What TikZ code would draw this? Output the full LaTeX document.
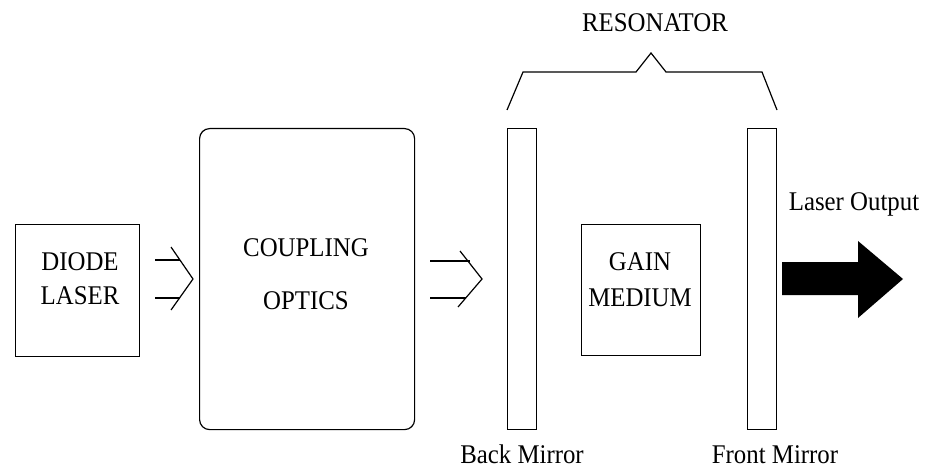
\documentclass[tikz,border=0pt]{standalone}
\usepackage{fontspec}
\setmainfont{Liberation Serif}[FakeStretch=0.92]
\usetikzlibrary{calc}
\begin{document}
\begin{tikzpicture}[x=1pt,y=-1pt, line width=1.2pt,
  box/.style={draw, inner sep=0pt, anchor=north west},
  lbl/.style={font=\fontsize{27}{30}\selectfont, inner sep=0pt, anchor=base},
  beam/.style={line width=1.2pt}]
\useasboundingbox (0,0) rectangle (928,470);
% boxes
\node[box, minimum width=124pt, minimum height=132pt] (diode) at (15,224) {};
\node[box, rounded corners=10pt, minimum width=215pt, minimum height=301pt] (coupling) at (199,128) {};
\node[box, minimum width=29pt, minimum height=301pt] (back) at (507,128) {};
\node[box, minimum width=119pt, minimum height=131pt] (gain) at (581,224) {};
\node[box, minimum width=29pt, minimum height=301pt] (front) at (747,128) {};
% texts
\node[lbl] (tdiode1) at (80,270) {DIODE};
\node[lbl] (tdiode2) at (80,304) {LASER};
\node[lbl] (tcoup1) at (306,256) {COUPLING};
\node[lbl] (tcoup2) at (306,309) {OPTICS};
\node[lbl] (tgain1) at (640,270) {GAIN};
\node[lbl] (tgain2) at (640,306) {MEDIUM};
\node[lbl] (tres) at (655,32) {RESONATOR};
\node[lbl] (tback) at (522,463) {Back Mirror};
\node[lbl] (tfront) at (775,463) {Front Mirror};
\node[lbl] (tout) at (854,211) {Laser Output};
% input arrows 1
\coordinate (c1) at (193,279);
\draw[beam] ($(c1)+(-22,-32)$) -- (c1) -- ($(c1)+(-22,31)$);
\draw[beam] (155,260) -- (180,260);
\draw[beam] (155,298) -- (180,298);
% input arrows 2
\coordinate (c2) at (482,279);
\draw[beam] ($(c2)+(-22,-28)$) -- (c2) -- ($(c2)+(-24,28)$);
\draw[beam] (430,261) -- (470,261);
\draw[beam] (430,298) -- (466,298);
% brace
\draw (back.north west) ++(0,-18) coordinate (bl) -- (523,72) -- (636,72) -- (651,53) -- (666,72) -- (762,72) -- (777,110) coordinate (br);
% output arrow
\fill (782,262) -- (858,262) -- (858,241) -- (903,279) -- (858,318) -- (858,295) -- (782,295) -- cycle;
\end{tikzpicture}
\end{document}
